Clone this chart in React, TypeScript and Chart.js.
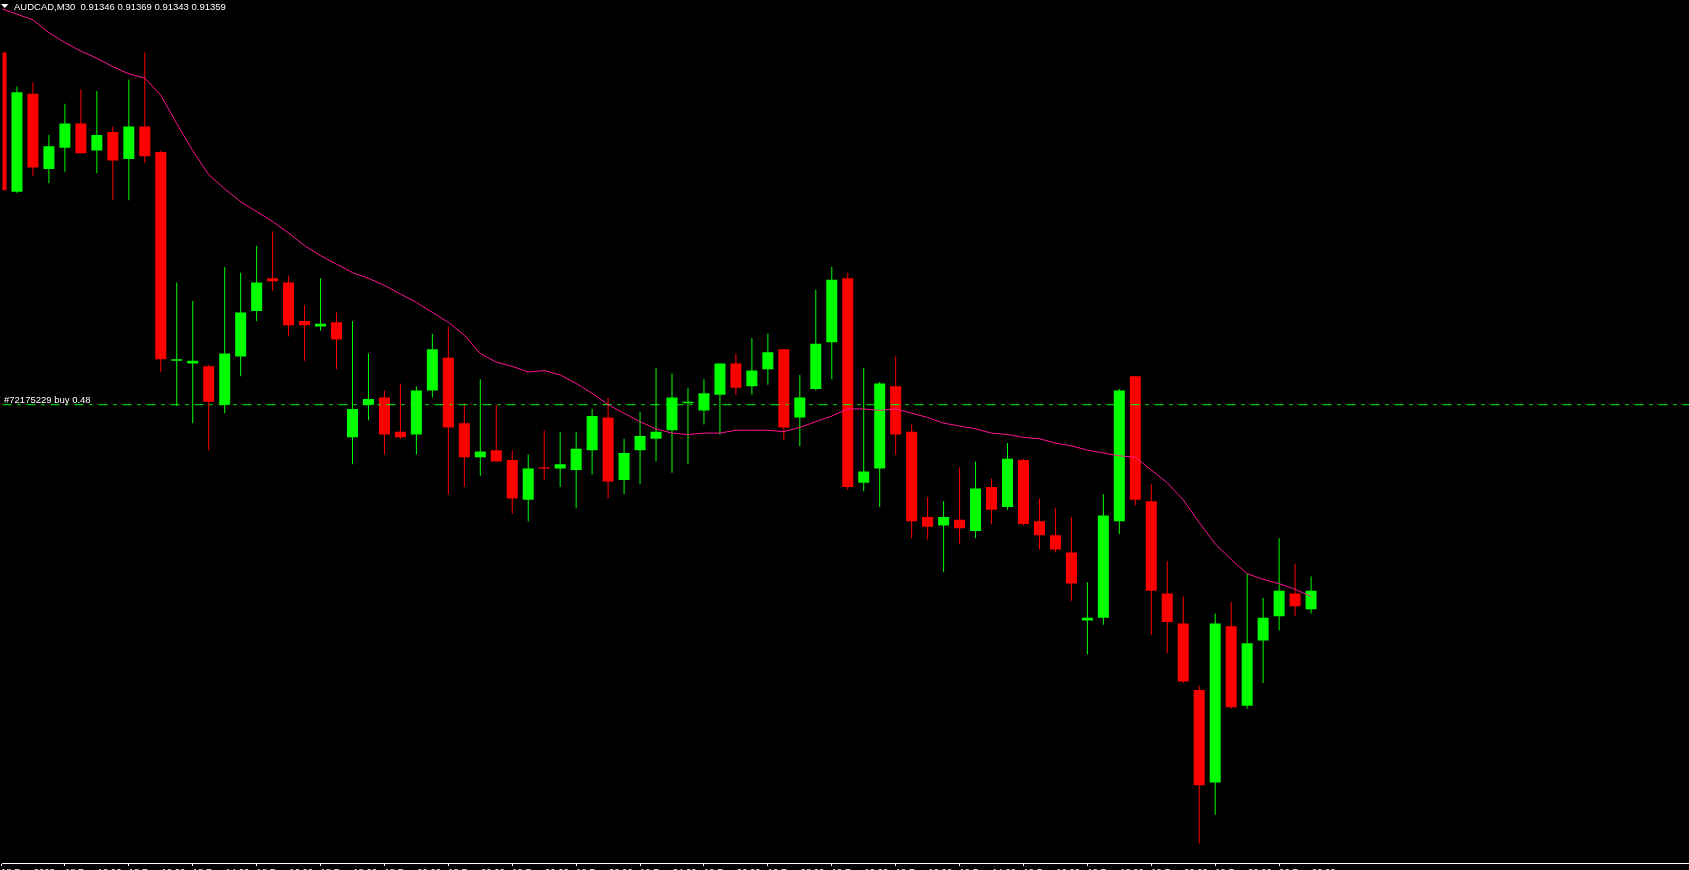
import React, { useEffect, useRef } from "react";
import { Chart, registerables } from "chart.js";

Chart.register(...registerables);

// ---- data ----
const SYMBOL_TITLE = "AUDCAD,M30  0.91346 0.91369 0.91343 0.91359";
const ORDER_LABEL = "#72175229 buy 0.48";
const ORDER_PRICE = 0.9149;

const OPEN = [
  0.91738, 0.9164, 0.91709, 0.91656, 0.91671, 0.91688, 0.91669, 0.91682, 0.91663, 0.91686,
  0.91668, 0.91521, 0.91519, 0.91517, 0.9149, 0.91524, 0.91556, 0.91579, 0.91576, 0.91549,
  0.91545, 0.91548, 0.91467, 0.9149, 0.91495, 0.91471, 0.91469, 0.915, 0.91523, 0.91477,
  0.91453, 0.91458, 0.91451, 0.91423, 0.91446, 0.91445, 0.91444, 0.91458, 0.91481, 0.91437,
  0.91458, 0.91466, 0.91472, 0.91491, 0.91486, 0.91497, 0.91519, 0.91503, 0.91515, 0.91529,
  0.91481, 0.91501, 0.91534, 0.91579, 0.91435, 0.91445, 0.91503, 0.91471, 0.91411, 0.91405,
  0.91409, 0.91401, 0.91432, 0.91418, 0.91451, 0.91408, 0.91398, 0.91386, 0.91338, 0.9134,
  0.91408, 0.9151, 0.91422, 0.91357, 0.91336, 0.91289, 0.91224, 0.91334, 0.91278, 0.91324,
  0.91341, 0.91357, 0.91346,
];
const HIGH = [
  0.91738, 0.91714, 0.91717, 0.9168, 0.91702, 0.91712, 0.91711, 0.91686, 0.91719, 0.91738,
  0.91669, 0.91576, 0.91563, 0.91518, 0.91587, 0.91583, 0.91602, 0.91612, 0.91581, 0.9156,
  0.91579, 0.91555, 0.91549, 0.91526, 0.915, 0.91505, 0.91503, 0.9154, 0.91545, 0.91491,
  0.91508, 0.9149, 0.91458, 0.91455, 0.91472, 0.91471, 0.91471, 0.91487, 0.91495, 0.91466,
  0.91485, 0.91516, 0.91512, 0.91502, 0.91508, 0.91519, 0.91526, 0.91537, 0.9154, 0.91529,
  0.91511, 0.91571, 0.91587, 0.91583, 0.91516, 0.91506, 0.91524, 0.91476, 0.91425, 0.91422,
  0.91446, 0.9145, 0.91438, 0.91463, 0.91452, 0.91424, 0.91417, 0.91411, 0.91365, 0.91427,
  0.91501, 0.9151, 0.91434, 0.9138, 0.91355, 0.91292, 0.91343, 0.91351, 0.91371, 0.91354,
  0.91396, 0.91378, 0.91369,
];
const LOW = [
  0.91641, 0.91639, 0.91651, 0.91646, 0.91654, 0.91667, 0.91653, 0.91634, 0.91634, 0.9166,
  0.91513, 0.91489, 0.91477, 0.91458, 0.91484, 0.9151, 0.91549, 0.9157, 0.91538, 0.91521,
  0.91542, 0.91515, 0.91448, 0.91479, 0.91455, 0.91466, 0.91455, 0.91495, 0.91427, 0.91432,
  0.9144, 0.9145, 0.91413, 0.91408, 0.91437, 0.91432, 0.91417, 0.91441, 0.91424, 0.91427,
  0.91434, 0.9145, 0.91442, 0.91448, 0.91476, 0.91469, 0.91497, 0.91497, 0.91504, 0.91465,
  0.91461, 0.915, 0.91508, 0.9143, 0.91429, 0.91418, 0.91455, 0.91396, 0.91395, 0.91372,
  0.91392, 0.91396, 0.91406, 0.91416, 0.91405, 0.91388, 0.91386, 0.91352, 0.91314, 0.91335,
  0.91399, 0.91419, 0.91328, 0.91315, 0.91294, 0.91181, 0.91201, 0.91276, 0.91276, 0.91294,
  0.91331, 0.91341, 0.91343,
];
const CLOSE = [
  0.91641, 0.9171, 0.91657, 0.91672, 0.91688, 0.91667, 0.9168, 0.91662, 0.91686, 0.91665,
  0.91522, 0.91522, 0.91521, 0.91492, 0.91526, 0.91555, 0.91576, 0.91577, 0.91546, 0.91546,
  0.91547, 0.91536, 0.91487, 0.91494, 0.91469, 0.91467, 0.915, 0.91529, 0.91474, 0.91453,
  0.91457, 0.9145, 0.91424, 0.91445, 0.91445, 0.91448, 0.91459, 0.91482, 0.91436, 0.91456,
  0.91468, 0.91471, 0.91495, 0.91492, 0.91498, 0.91519, 0.91502, 0.91514, 0.91527, 0.91474,
  0.91495, 0.91533, 0.91578, 0.91432, 0.91443, 0.91505, 0.91469, 0.91408, 0.91404, 0.91411,
  0.91403, 0.91431, 0.91416, 0.91452, 0.91406, 0.91398, 0.91388, 0.91364, 0.9134, 0.91412,
  0.915, 0.91423, 0.91359, 0.91337, 0.91295, 0.91222, 0.91336, 0.91277, 0.91322, 0.9134,
  0.91359, 0.91348, 0.91359,
];
const MA = [
  0.91769, 0.91765, 0.91761, 0.91752, 0.91745, 0.91739, 0.91734, 0.91728, 0.91723, 0.9172,
  0.91708, 0.91688, 0.91669, 0.91652, 0.91642, 0.91633, 0.91626, 0.91619, 0.91611, 0.91602,
  0.91595, 0.91589, 0.91583, 0.91579, 0.91574, 0.91568, 0.91562, 0.91555, 0.91548, 0.91539,
  0.91526, 0.9152, 0.91517, 0.91513, 0.91514, 0.91511, 0.91505, 0.91498, 0.9149, 0.91484,
  0.91478, 0.91473, 0.9147, 0.91469, 0.9147, 0.9147, 0.91472, 0.91472, 0.91472, 0.91471,
  0.91474, 0.91478, 0.91482, 0.91487, 0.91487, 0.91486, 0.91487, 0.91484, 0.91481, 0.91477,
  0.91475, 0.91473, 0.9147, 0.91469, 0.91467, 0.91466, 0.91463, 0.91461, 0.91458, 0.91456,
  0.91454, 0.91453, 0.91444, 0.91435, 0.91423, 0.91407, 0.91392, 0.91381, 0.91371, 0.91367,
  0.91364, 0.9136, 0.91355,
];
const TICK_BARS = [0, 4, 8, 12, 16, 20, 24, 28, 32, 36, 40, 44, 48, 52, 56, 60, 64, 68, 72, 76, 80];
const TICK_LABELS = [
  "18 Dec 2023", "18 Dec 10:00", "18 Dec 12:00", "18 Dec 14:00", "18 Dec 16:00", "18 Dec 18:00",
  "18 Dec 20:00", "18 Dec 22:00", "19 Dec 00:00", "19 Dec 02:00", "19 Dec 04:00", "19 Dec 06:00",
  "19 Dec 08:00", "19 Dec 10:00", "19 Dec 12:00", "19 Dec 14:00", "19 Dec 16:00", "19 Dec 18:00",
  "19 Dec 20:00", "19 Dec 22:00", "20 Dec 00:00",
];

// ---- styles / layout ----
const W = 1689;
const H = 870;
const BULL = "#00ff00";
const BEAR = "#ff0000";
const MA_COLOR = "#ff1493";
const ORDER_COLOR = "#00ff00";
const FONT = "'Liberation Sans', Arial, sans-serif";
const BAR_SPACING = 16; // px between candles
const FIRST_CENTER = -1.5; // px of candle 0
const X_MIN = -FIRST_CENTER / BAR_SPACING;
const X_MAX = X_MIN + W / BAR_SPACING;
const PX_PER_POINT = 1.42;
const Y_MAX = 0.91775;
const PLOT_H = 863;
const Y_MIN = Y_MAX - PLOT_H / PX_PER_POINT / 100000;

const overlayPlugin = {
  id: "mt4overlay",
  afterDraw(chart: any) {
    const ctx = chart.ctx as CanvasRenderingContext2D;
    const y = chart.scales.y.getPixelForValue(ORDER_PRICE);
    ctx.save();
    ctx.fillStyle = "#ffffff";
    // title triangle
    ctx.beginPath();
    ctx.moveTo(1, 4);
    ctx.lineTo(8.5, 4);
    ctx.lineTo(4.75, 8);
    ctx.closePath();
    ctx.fill();
    ctx.font = `9.5px ${FONT}`;
    ctx.textBaseline = "alphabetic";
    ctx.textAlign = "left";
    ctx.fillText(SYMBOL_TITLE, 14, 10);
    ctx.fillText(ORDER_LABEL, 4, y - 2);
    ctx.restore();
  },
};

export default function App() {
  const ref = useRef<HTMLCanvasElement | null>(null);

  useEffect(() => {
    document.body.style.margin = "0";
    document.body.style.background = "#000";
    document.body.style.overflow = "hidden";
    const colors = OPEN.map((o, i) => (CLOSE[i] >= o ? BULL : BEAR));
    const chart = new Chart(ref.current as HTMLCanvasElement, {
      type: "bar",
      data: {
        datasets: [
          {
            type: "line",
            label: "MA",
            data: MA.map((v, i) => ({ x: i, y: v })),
            borderColor: MA_COLOR,
            borderWidth: 1,
            pointRadius: 0,
            tension: 0,
            order: 0,
          } as any,
          {
            type: "line",
            label: "order",
            data: [
              { x: X_MIN, y: ORDER_PRICE },
              { x: X_MAX, y: ORDER_PRICE },
            ],
            borderColor: ORDER_COLOR,
            borderWidth: 1,
            borderDash: [9, 6, 3, 6],
            pointRadius: 0,
            order: 1,
          } as any,
          {
            type: "bar",
            label: "wick",
            data: LOW.map((l, i) => ({ x: i, y: [l, HIGH[i]] })),
            backgroundColor: colors,
            borderWidth: 0,
            barThickness: 1,
            grouped: false,
            inflateAmount: 0,
            order: 3,
          } as any,
          {
            type: "bar",
            label: "body",
            data: OPEN.map((o, i) => ({ x: i, y: [o, CLOSE[i]] })),
            backgroundColor: colors,
            borderWidth: 0,
            barThickness: 11,
            grouped: false,
            inflateAmount: 0,
            order: 2,
          } as any,
        ],
      },
      options: {
        responsive: false,
        animation: false,
        devicePixelRatio: 1,
        layout: { padding: 0 },
        plugins: { legend: { display: false }, tooltip: { enabled: false }, title: { display: false } },
        scales: {
          x: {
            type: "linear",
            position: "bottom",
            min: X_MIN,
            max: X_MAX,
            offset: false,
            grid: {
              display: true,
              offset: false,
              drawOnChartArea: false,
              drawTicks: true,
              tickLength: 3,
              color: "#ffffff",
            },
            border: { display: true, color: "#ffffff", width: 1 },
            ticks: {
              autoSkip: false,
              maxRotation: 0,
              minRotation: 0,
              align: "start",
              padding: 1,
              color: "#ffffff",
              font: { family: FONT, size: 9.5 },
              callback: (value: any) => {
                const k = TICK_BARS.indexOf(Number(value));
                return k >= 0 ? TICK_LABELS[k] : "";
              },
            },
            afterBuildTicks: (scale: any) => {
              scale.ticks = TICK_BARS.map((v) => ({ value: v }));
            },
            afterFit: (scale: any) => {
              scale.height = H - PLOT_H;
            },
          },
          y: {
            type: "linear",
            display: false,
            min: Y_MIN,
            max: Y_MAX,
          },
        },
      } as any,
      plugins: [overlayPlugin],
    });
    return () => chart.destroy();
  }, []);

  return (
    <div style={{ width: W, height: H, overflow: "hidden", background: "#000", position: "relative" }}>
      <canvas ref={ref} width={W} height={H} style={{ display: "block", width: W, height: H }} />
    </div>
  );
}
